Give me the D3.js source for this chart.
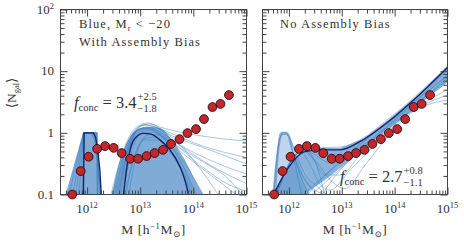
<!DOCTYPE html>
<html>
<head>
<meta charset="utf-8">
<script src="https://cdn.jsdelivr.net/npm/d3@7"></script>
<style>
  body { margin: 0; background: #fff; }
  svg { display: block; }
  text { font-family: "Liberation Serif", "DejaVu Serif", serif; fill: #333; }
</style>
</head>
<body>
<div id="chart"></div>
<script>
// measured points (same in both panels): log10 M and <N_gal>
const massLog = [11.72, 11.88, 12.03, 12.19, 12.34, 12.50, 12.65, 12.81, 12.96, 13.12,
                 13.27, 13.43, 13.58, 13.74, 13.89, 14.05, 14.20, 14.36, 14.51, 14.67];
const nGalObs = [0.10, 0.24, 0.41, 0.55, 0.61, 0.57, 0.47, 0.38, 0.38, 0.42,
                 0.47, 0.53, 0.66, 0.79, 0.99, 1.15, 1.67, 2.62, 2.94, 4.1];

// model curves, each point is [log10 M, <N_gal>]
// -- with assembly bias
const abBoxFill = [[11.59, 0.09], [11.93, 1.0], [12.19, 1.0], [12.2, 0.5], [12.27, 0.09]];
const abHumpFill = [[12.455, 0.09], [12.624, 0.362], [12.773, 0.766], [12.96, 1.15], [13.148, 1.24],
                    [13.373, 1.19], [13.597, 0.766], [13.84, 0.362], [14.03, 0.172], [14.215, 0.09]];
const abBoxLines = [
  [[11.59, 0.09], [11.93, 1], [12.19, 1], [12.195, 0.09]],
  [[11.65, 0.09], [11.93, 1], [12.19, 1], [12.19, 0.09]],
  [[11.72, 0.09], [11.935, 1], [12.18, 1], [12.2, 0.09]],
  [[11.78, 0.09], [11.94, 1], [12.15, 0.98], [12.2, 0.5], [12.23, 0.09]],
  [[11.84, 0.09], [11.94, 1], [12.1, 0.95], [12.17, 0.6], [12.22, 0.2], [12.25, 0.09]],
  [[11.9, 0.09], [11.945, 1], [12.12, 1], [12.19, 0.5], [12.26, 0.09]]
];
const abHumpLines = [
  [[12.474, 0.09], [12.624, 0.362], [12.81, 0.923], [12.998, 1.34], [13.148, 1.44], [13.373, 1.24], [13.747, 1.03], [14.31, 0.85], [15.05, 0.73]],
  [[12.53, 0.09], [12.717, 0.437], [12.904, 1.03], [13.09, 1.34], [13.28, 1.24], [13.654, 0.923], [14.12, 0.635], [15.05, 0.39]],
  [[12.586, 0.09], [12.773, 0.527], [12.96, 1.11], [13.148, 1.24], [13.373, 1.03], [13.747, 0.635], [14.31, 0.362], [15.05, 0.207]],
  [[12.624, 0.09], [12.81, 0.527], [12.998, 1.03], [13.185, 1.11], [13.466, 0.82], [13.84, 0.437], [14.40, 0.185], [14.87, 0.09]],
  [[12.436, 0.09], [12.66, 0.437], [12.904, 1.03], [13.09, 1.19], [13.373, 0.923], [13.747, 0.362], [14.03, 0.09]],
  [[12.66, 0.09], [12.85, 0.527], [13.035, 0.98], [13.223, 1.03], [13.466, 0.766], [13.747, 0.362], [13.934, 0.172], [14.066, 0.09]],
  [[12.717, 0.09], [12.904, 0.437], [13.09, 0.82], [13.28, 0.85], [13.56, 0.527], [13.84, 0.207], [13.99, 0.09]],
  [[12.49, 0.09], [12.717, 0.527], [12.998, 1.29], [13.185, 1.39], [13.466, 1.03], [13.84, 0.527], [14.215, 0.207], [14.5, 0.09]],
  [[12.773, 0.09], [12.96, 0.527], [13.148, 0.923], [13.335, 0.923], [13.654, 0.527], [14.03, 0.172], [14.215, 0.09]],
  [[12.55, 0.09], [12.755, 0.49], [12.96, 1.11], [13.185, 1.19], [13.56, 0.766], [14.12, 0.301], [14.68, 0.143], [15.05, 0.11]],
  [[12.605, 0.09], [12.81, 0.635], [13.054, 1.34], [13.24, 1.29], [13.654, 0.71], [14.31, 0.301], [15.05, 0.143]],
  [[12.70, 0.09], [12.867, 0.362], [13.07, 0.766], [13.316, 0.766], [13.597, 0.437], [13.86, 0.172], [13.97, 0.09]],
  [[12.51, 0.09], [12.736, 0.527], [12.998, 1.19], [13.223, 1.24], [13.654, 0.85], [14.31, 0.527], [15.05, 0.301]],
  [[12.57, 0.09], [12.773, 0.49], [12.998, 1.11], [13.185, 1.15], [13.56, 0.71], [14.12, 0.362], [14.68, 0.172], [14.96, 0.09]]
];
const abDark = [
  [[11.93, 0.09], [11.945, 1.0], [12.12, 1.0], [12.16, 0.85], [12.2, 0.53], [12.24, 0.25], [12.27, 0.09]],
  [[12.68, 0.09], [12.75, 0.28], [12.81, 0.53], [12.90, 0.81], [13.06, 0.98], [13.19, 0.96], [13.37, 0.77], [13.56, 0.53], [13.75, 0.28], [13.86, 0.15], [13.92, 0.09]]
];

// -- no assembly bias
const noBoxFill = [[11.688, 0.09], [11.84, 1.0], [11.97, 1.0], [12.065, 0.57], [12.216, 0.207], [12.404, 0.09]];
const noBandFill = [[11.707, 0.09], [12.008, 0.28], [12.29, 0.55], [12.592, 0.57], [12.969, 0.57], [13.40, 0.79],
                    [13.854, 1.55], [14.42, 3.95], [15.0, 12.1], [15.0, 6.67], [14.475, 2.93], [13.91, 1.2],
                    [13.346, 0.49], [12.969, 0.269], [12.686, 0.172], [12.404, 0.118], [12.31, 0.09]];
const noBoxLines = [
  [[11.688, 0.09], [11.782, 0.527], [11.84, 1.0], [11.952, 1.03], [12.027, 0.635], [12.14, 0.249], [12.253, 0.09]],
  [[11.707, 0.09], [11.80, 0.635], [11.858, 1.0], [11.97, 1.0], [12.065, 0.527], [12.216, 0.207], [12.404, 0.09]],
  [[11.726, 0.09], [11.82, 0.766], [11.877, 0.96], [11.99, 0.89], [12.12, 0.362], [12.366, 0.143], [12.592, 0.09]],
  [[11.707, 0.09], [11.782, 0.437], [11.858, 0.923], [11.952, 0.96], [12.046, 0.71], [12.31, 0.207], [12.498, 0.143], [12.78, 0.09]],
  [[11.745, 0.09], [11.82, 0.635], [11.896, 1.0], [11.99, 0.96], [12.084, 0.57], [12.216, 0.249], [12.498, 0.118], [12.874, 0.09]]
];
const noMainLines = [
  [[11.707, 0.09], [11.99, 0.301], [12.216, 0.527], [12.366, 0.588], [12.592, 0.49], [12.969, 0.437], [13.44, 0.766], [13.91, 1.5], [14.475, 3.81], [15.0, 10.4]],
  [[11.726, 0.09], [12.027, 0.324], [12.272, 0.527], [12.498, 0.437], [12.78, 0.324], [13.157, 0.39], [13.628, 0.82], [14.1, 1.95], [14.57, 4.26], [15.0, 8.67]],
  [[11.745, 0.09], [12.027, 0.336], [12.253, 0.55], [12.44, 0.39], [12.686, 0.207], [12.969, 0.207], [13.346, 0.437], [13.816, 1.0], [14.287, 2.35], [15.0, 7.74]],
  [[11.707, 0.09], [11.97, 0.269], [12.216, 0.49], [12.404, 0.301], [12.592, 0.143], [12.78, 0.118], [13.157, 0.249], [13.722, 0.766], [14.287, 2.18], [15.0, 6.67]],
  [[12.216, 0.09], [12.686, 0.207], [13.157, 0.437], [13.722, 1.03], [14.287, 2.53], [15.0, 7.19]],
  [[12.31, 0.09], [12.78, 0.249], [13.346, 0.635], [13.91, 1.61], [14.475, 3.81], [15.0, 8.34]],
  [[11.707, 0.09], [12.008, 0.28], [12.29, 0.527], [12.592, 0.57], [12.969, 0.588], [13.40, 0.82], [13.854, 1.61], [14.42, 4.1], [15.0, 12.1]],
  [[11.764, 0.09], [12.046, 0.362], [12.31, 0.527], [12.555, 0.249], [12.686, 0.09]],
  [[11.726, 0.09], [12.008, 0.31], [12.272, 0.51], [12.52, 0.336], [12.78, 0.172], [13.063, 0.125], [13.44, 0.30], [13.97, 1.1], [14.5, 2.8], [15.0, 5.0]],
  [[12.404, 0.095], [12.78, 0.185], [13.157, 0.362], [13.91, 1.2], [14.38, 2.35], [15.0, 3.4]],
  [[12.592, 0.09], [12.969, 0.249], [13.346, 0.527], [14.1, 1.74], [14.57, 2.93], [15.0, 4.1]]
];
const noDark = [
  [[11.71, 0.1], [12.0, 0.28], [12.285, 0.49], [12.59, 0.53], [12.97, 0.53], [13.40, 0.77], [13.85, 1.44], [14.42, 3.81], [15.0, 11.5]]
];

const xMajor = [1e12, 1e13, 1e14, 1e15];
const xExp = ["12", "13", "14", "15"];
const yMajor = [0.1, 1, 10, 100];
const fconc = [
  {val: "3.4", up: "+2.5", dn: "\u22121.8"},
  {val: "2.7", up: "+0.8", dn: "\u22121.1"}
];

const W = 464, H = 242;
const plotTop = 9.5, plotBottom = 194.5;
const blue = "#3a7cbe", dark = "#14236b";

const svg = d3.select("#chart").append("svg").attr("width", W).attr("height", H);

const panels = [
  {left: 60.5, right: 246.5, fills: [abBoxFill, abHumpFill], fillOp: [0.7, 0.7],
   boxes: abBoxLines, curves: abHumpLines, dark: abDark},
  {left: 262.5, right: 447.5, fills: [noBoxFill, noBandFill], fillOp: [0.35, 0.65],
   boxes: noBoxLines, curves: noMainLines, dark: noDark}
];

panels.forEach(function (p, i) {
  const x = d3.scaleLog().domain([Math.pow(10, 11.5), 1e15]).range([p.left, p.right]);
  const y = d3.scaleLog().domain([0.1, 100]).range([plotBottom, plotTop]);
  p.x = x; p.y = y;

  const g = svg.append("g");
  g.append("clipPath").attr("id", "clip" + i)
    .append("rect").attr("x", p.left).attr("y", plotTop)
    .attr("width", p.right - p.left).attr("height", plotBottom - plotTop);

  const plot = g.append("g").attr("clip-path", "url(#clip" + i + ")");
  const straight = d3.line().x(d => x(Math.pow(10, d[0]))).y(d => y(d[1]));
  const smooth = d3.line().x(d => x(Math.pow(10, d[0]))).y(d => y(d[1])).curve(d3.curveMonotoneX);

  plot.selectAll(".band").data(p.fills).enter().append("path")
    .attr("d", (d, k) => (i === 0 && k === 1 ? smooth : straight)(d) + "Z")
    .attr("fill", "#4a88c5").attr("fill-opacity", (d, k) => p.fillOp[k]).attr("stroke", "none");

  plot.selectAll(".box").data(p.boxes).enter().append("path")
    .attr("d", i === 0 ? straight : smooth)
    .attr("fill", "none").attr("stroke", blue).attr("stroke-opacity", 0.6).attr("stroke-width", 0.8);

  plot.selectAll(".curve").data(p.curves).enter().append("path")
    .attr("d", smooth)
    .attr("fill", "none").attr("stroke", blue).attr("stroke-opacity", 0.55).attr("stroke-width", 0.8);

  plot.selectAll(".dark").data(p.dark).enter().append("path")
    .attr("d", (d, k) => (i === 0 && k === 0 ? straight : smooth)(d))
    .attr("fill", "none").attr("stroke", dark).attr("stroke-width", 1.4);

  // axes: ticks point inward on all four sides
  const minorX = x.ticks().filter(v => xMajor.indexOf(v) < 0);
  const minorY = y.ticks().filter(v => yMajor.indexOf(v) < 0);
  const clean = s => s.call(a => a.select(".domain").remove())
    .call(a => a.selectAll("line").attr("stroke", "#444"));

  [[d3.axisBottom, plotBottom], [d3.axisTop, plotTop]].forEach(function (a) {
    g.append("g").attr("transform", "translate(0," + a[1] + ")")
      .call(a[0](x).tickValues(minorX).tickSize(-4).tickFormat("")).call(clean);
    g.append("g").attr("transform", "translate(0," + a[1] + ")")
      .call(a[0](x).tickValues(xMajor).tickSize(-7).tickFormat("")).call(clean);
  });
  [[d3.axisLeft, p.left], [d3.axisRight, p.right]].forEach(function (a) {
    g.append("g").attr("transform", "translate(" + a[1] + ",0)")
      .call(a[0](y).tickValues(minorY).tickSize(-4).tickFormat("")).call(clean);
    g.append("g").attr("transform", "translate(" + a[1] + ",0)")
      .call(a[0](y).tickValues(yMajor).tickSize(-7).tickFormat("")).call(clean);
  });

  g.append("rect").attr("x", p.left).attr("y", plotTop)
    .attr("width", p.right - p.left).attr("height", plotBottom - plotTop)
    .attr("fill", "none").attr("stroke", "#444").attr("stroke-width", 1);

  // x tick labels
  xMajor.forEach(function (v, k) {
    const t = g.append("text").attr("x", x(v)).attr("y", 213)
      .attr("text-anchor", "middle").attr("font-size", 13);
    t.append("tspan").text("10");
    t.append("tspan").attr("font-size", 8.5).attr("dy", -5).text(xExp[k]);
  });

  // x title
  const xt = g.append("text").attr("x", (p.left + p.right) / 2).attr("y", 234)
    .attr("text-anchor", "middle").attr("font-size", 13.5).attr("letter-spacing", 0.6);
  xt.append("tspan").text("M [h");
  xt.append("tspan").attr("font-size", 8.5).attr("dy", -5).text("\u22121");
  xt.append("tspan").attr("dy", 5).text("M");
  xt.append("tspan").attr("font-size", 8.5).attr("dy", 3).text("\u2299");
  xt.append("tspan").attr("dy", -3).text("]");

  // f_conc annotation
  const fx = i === 0 ? 74 : 340, fy = i === 0 ? 108 : 182;
  const ft = g.append("text").attr("x", fx).attr("y", fy).attr("font-size", 16.5);
  ft.append("tspan").attr("font-style", "italic").text("f");
  ft.append("tspan").attr("font-size", 10.5).attr("dy", 3).text("conc");
  ft.append("tspan").attr("dy", -3).text(" = " + fconc[i].val);
  const fw = ft.node().getComputedTextLength();
  g.append("text").attr("x", fx + fw + 1).attr("y", fy - 8).attr("font-size", 10.5).text(fconc[i].up);
  g.append("text").attr("x", fx + fw + 1).attr("y", fy + 4).attr("font-size", 10.5).text(fconc[i].dn);

  // measured points
  g.selectAll(".pt").data(massLog).enter().append("circle")
    .attr("cx", d => x(Math.pow(10, d)))
    .attr("cy", (d, k) => y(nGalObs[k]))
    .attr("r", 4.4)
    .attr("fill", "#c1272d").attr("stroke", "#2a0a0a").attr("stroke-width", 0.9);
});

// panel labels
const pl = svg.append("g").attr("font-size", 12.5).attr("letter-spacing", 1.1);
const l1 = pl.append("text").attr("x", 79).attr("y", 28);
l1.append("tspan").text("Blue, M");
l1.append("tspan").attr("font-size", 8.5).attr("dy", 3).text("r");
l1.append("tspan").attr("dy", -3).text(" < \u221220");
pl.append("text").attr("x", 79).attr("y", 46).text("With Assembly Bias");
pl.append("text").attr("x", 280).attr("y", 28).text("No Assembly Bias");

// y tick labels (left panel only)
const y0 = panels[0].y;
const yl = svg.append("g").attr("font-size", 13).attr("text-anchor", "end");
yMajor.forEach(function (v) {
  const t = yl.append("text").attr("x", 54).attr("y", y0(v)).attr("dy", "0.33em");
  if (v === 100) {
    t.append("tspan").text("10");
    t.append("tspan").attr("font-size", 8.5).attr("dy", -5).text("2");
  } else {
    t.text(v === 0.1 ? "0.1" : String(v));
  }
});

// y title
const ytl = svg.append("text").attr("transform", "translate(16,93) rotate(-90)")
  .attr("text-anchor", "middle").attr("font-size", 13.5);
ytl.append("tspan").text("\u27e8N");
ytl.append("tspan").attr("font-size", 8.5).attr("dy", 3).text("gal");
ytl.append("tspan").attr("dy", -3).text("\u27e9");
</script>
</body>
</html>
